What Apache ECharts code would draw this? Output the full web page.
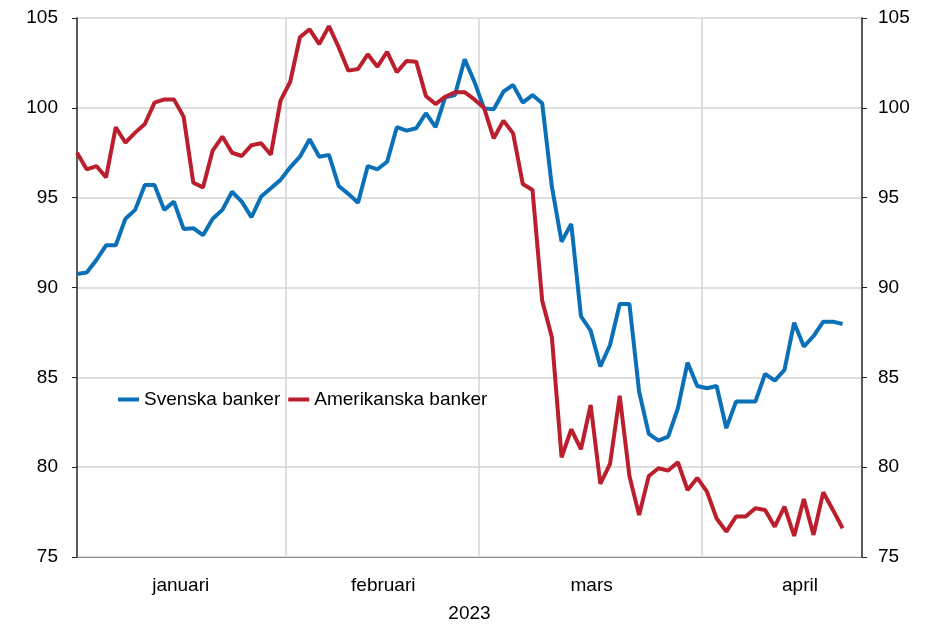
<!DOCTYPE html>
<html>
<head>
<meta charset="utf-8">
<script src="https://cdn.jsdelivr.net/npm/echarts@6/dist/echarts.min.js"></script>
<style>
html, body { margin: 0; padding: 0; background: #fff; }
#main { width: 925px; height: 625px; }
</style>
</head>
<body>
<div id="main"></div>
<script>
// index per trading day, Jan 2 – Apr 21 2023
const svenska = [
  90.75, 90.83, 91.53, 92.35, 92.35, 93.83, 94.32, 95.71, 95.71, 94.32,
  94.78, 93.26, 93.30, 92.91, 93.83, 94.32, 95.33, 94.78, 93.91, 95.06,
  95.52, 95.99, 96.69, 97.28, 98.25, 97.28, 97.38, 95.65, 95.21, 94.72,
  96.76, 96.58, 97.00, 98.92, 98.73, 98.86, 99.70, 98.92, 100.59, 100.71,
  102.70, 101.46, 99.97, 99.92, 100.90, 101.27, 100.29, 100.71, 100.25, 95.61,
  92.55, 93.54, 88.40, 87.60, 85.60, 86.80, 89.08, 89.08, 84.21, 81.85,
  81.48, 81.70, 83.28, 85.82, 84.52, 84.39, 84.52, 82.17, 83.65, 83.65,
  83.65, 85.19, 84.82, 85.41, 88.04, 86.71, 87.30, 88.10, 88.10, 87.97
];
const amerikanska = [
  97.50, 96.58, 96.76, 96.13, 98.92, 98.06, 98.62, 99.10, 100.29, 100.47,
  100.47, 99.51, 95.83, 95.57, 97.62, 98.40, 97.50, 97.32, 97.92, 98.03,
  97.39, 100.40, 101.45, 103.93, 104.37, 103.55, 104.55, 103.37, 102.07, 102.16,
  102.98, 102.29, 103.12, 101.98, 102.61, 102.57, 100.66, 100.21, 100.62, 100.87,
  100.87, 100.47, 100.00, 98.30, 99.29, 98.58, 95.76, 95.43, 89.27, 87.23,
  80.55, 82.11, 81.00, 83.46, 79.07, 80.18, 83.97, 79.51, 77.33, 79.51,
  79.94, 79.81, 80.28, 78.73, 79.40, 78.64, 77.14, 76.41, 77.25, 77.25,
  77.71, 77.62, 76.69, 77.80, 76.17, 78.23, 76.23, 78.60, 77.62, 76.60
];
const months = ['januari', 'februari', 'mars', 'april'];
const monthCenters = [10.7, 31.6, 53.1, 74.6];
const monthBreaks = [21.5, 41.5, 64.5];
const yearLabel = '2023';

const font = 'Liberation Sans, Arial, sans-serif';
const toPairs = arr => arr.map((v, i) => [i, v]);

const chart = echarts.init(document.getElementById('main'));
chart.setOption({
  animation: false,
  textStyle: { fontFamily: font, color: '#000' },
  grid: { left: 77, right: 63, top: 18, bottom: 68, outerBoundsMode: 'none' },
  legend: {
    left: 113, top: 385,
    icon: 'rect', itemWidth: 21, itemHeight: 4, itemGap: 8,
    textStyle: { fontFamily: font, fontSize: 19, color: '#000' },
    data: ['Svenska banker', 'Amerikanska banker']
  },
  xAxis: {
    type: 'value', min: 0, max: 81,
    name: yearLabel, nameLocation: 'middle', nameGap: 47,
    nameTextStyle: { fontFamily: font, fontSize: 19, color: '#000' },
    axisLine: { show: true, lineStyle: { color: '#8c8c8c', width: 1 } },
    axisTick: { show: false, customValues: monthBreaks },
    splitLine: { show: true, lineStyle: { color: '#d4d4d4', width: 1.5 } },
    axisLabel: {
      customValues: monthCenters,
      margin: 19, fontSize: 19, color: '#000', fontFamily: font,
      formatter: v => months[monthCenters.indexOf(v)] || ''
    }
  },
  yAxis: [{
    type: 'value', position: 'left', min: 75, max: 105, interval: 5,
    axisLine: { show: true, lineStyle: { color: '#222', width: 1.5 } },
    axisTick: { show: true, inside: false, length: 5, lineStyle: { color: '#222' } },
    axisLabel: { margin: 19, fontSize: 19, color: '#000', fontFamily: font },
    splitLine: { show: true, lineStyle: { color: '#d4d4d4', width: 1.5 } }
  }, {
    type: 'value', position: 'right', min: 75, max: 105, interval: 5,
    axisLine: { show: true, lineStyle: { color: '#222', width: 1.5 } },
    axisTick: { show: true, inside: false, length: 5, lineStyle: { color: '#222' } },
    axisLabel: { margin: 16, fontSize: 19, color: '#000', fontFamily: font },
    splitLine: { show: false }
  }],
  series: [{
    name: 'Svenska banker', type: 'line', yAxisIndex: 0,
    data: toPairs(svenska), showSymbol: false,
    lineStyle: { color: '#0a70b8', width: 4 }, itemStyle: { color: '#0a70b8' }
  }, {
    name: 'Amerikanska banker', type: 'line', yAxisIndex: 0,
    data: toPairs(amerikanska), showSymbol: false,
    lineStyle: { color: '#bb1e2c', width: 4 }, itemStyle: { color: '#bb1e2c' }
  }]
});
</script>
</body>
</html>
